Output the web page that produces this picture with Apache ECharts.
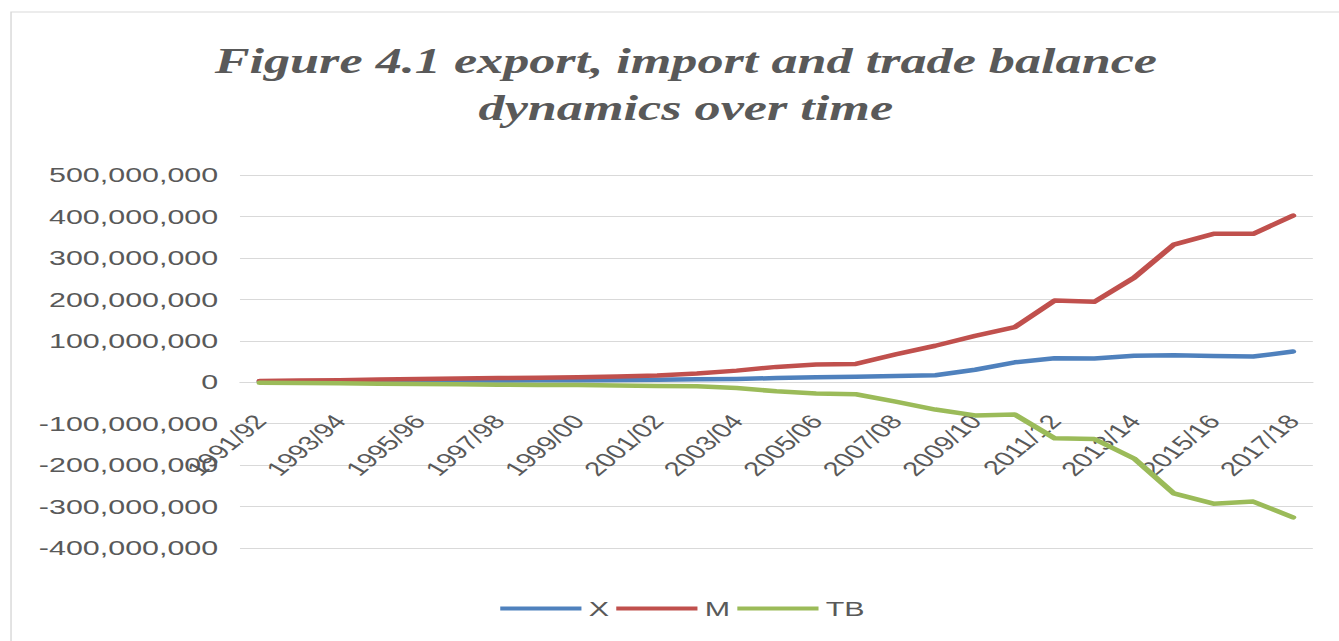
<!DOCTYPE html>
<html>
<head>
<meta charset="utf-8">
<script src="https://cdn.jsdelivr.net/npm/echarts@6/dist/echarts.min.js"></script>
<style>
  html, body { margin: 0; padding: 0; background: #fff; overflow: hidden; width: 1339px; height: 641px; }
  /* the figure is laid out narrow and widened horizontally */
  #chart { width: 924px; height: 641px; transform: scaleX(1.45); transform-origin: 0 0; }
</style>
</head>
<body>
<div id="chart"></div>
<script>
// Fiscal years
const years = [
  '1991/92', '1992/93', '1993/94', '1994/95', '1995/96', '1996/97', '1997/98',
  '1998/99', '1999/00', '2000/01', '2001/02', '2002/03', '2003/04', '2004/05',
  '2005/06', '2006/07', '2007/08', '2008/09', '2009/10', '2010/11', '2011/12',
  '2012/13', '2013/14', '2014/15', '2015/16', '2016/17', '2017/18'
];

// Exports (X)
const exportsX = [
  1500000, 2000000, 2500000, 3000000, 3500000, 4000000, 4000000,
  4500000, 5000000, 5500000, 6000000, 7000000, 8000000, 10000000,
  12000000, 13000000, 15000000, 17000000, 30000000, 48000000, 58000000,
  57000000, 64000000, 65000000, 63000000, 62000000, 74000000
];

// Imports (M)
const importsM = [
  3000000, 4000000, 5000000, 6500000, 8000000, 9000000, 10000000,
  11000000, 12000000, 14000000, 16000000, 21000000, 28000000, 37000000,
  43000000, 44000000, 67000000, 88000000, 112000000, 133000000, 197000000,
  194000000, 252000000, 332000000, 358000000, 358000000, 402000000
];

// Trade balance (TB)
const tradeBalance = [
  -1000000, -2000000, -2500000, -3500000, -4000000, -5000000, -6000000,
  -6500000, -7000000, -8000000, -9000000, -10000000, -14000000, -22000000,
  -27000000, -29000000, -47000000, -66000000, -80000000, -78000000, -135000000,
  -137000000, -184000000, -268000000, -293000000, -288000000, -326000000
];

const seriesNames = ['X', 'M', 'TB'];
const seriesColors = ['#4F81BD', '#C0504D', '#9BBB59'];
const titleLines = ['Figure 4.1 export, import and trade balance', 'dynamics over time'];

const yMin = -400000000;
const yMax = 500000000;
const yStep = 100000000;

const textGrey = '#595959';
const gridGrey = '#d9d9d9';
const sansFont = '"Liberation Sans", Arial, sans-serif';

const gridTop = 175;
const gridBottom = 93;
const plotHeight = 641 - gridTop - gridBottom;
// category axis sits on the zero line, not at the bottom of the plot
const zeroOffset = -plotHeight * (0 - yMin) / (yMax - yMin);

const chart = echarts.init(document.getElementById('chart'), null, { renderer: 'svg' });

const titleStyle = {
  fill: textGrey,
  fontFamily: '"Liberation Serif", "Times New Roman", serif',
  fontStyle: 'italic',
  fontWeight: 'bold',
  fontSize: 36,
  align: 'center',
  verticalAlign: 'middle'
};

const lineSeries = [exportsX, importsM, tradeBalance].map((values, i) => ({
  name: seriesNames[i],
  type: 'line',
  data: values,
  symbol: 'none',
  smooth: false,
  lineStyle: { width: 4.5, color: seriesColors[i], cap: 'round', join: 'round' },
  itemStyle: { color: seriesColors[i] }
}));

chart.setOption({
  backgroundColor: '#ffffff',
  animation: false,
  graphic: [
    {
      type: 'rect',
      silent: true,
      z: -1,
      shape: { x: 7.6, y: 12, width: 2000, height: 2000 },
      style: { fill: 'none', stroke: gridGrey, lineWidth: 1 }
    },
    { type: 'text', x: 473, y: 61, style: Object.assign({ text: titleLines[0] }, titleStyle) },
    { type: 'text', x: 473, y: 108, style: Object.assign({ text: titleLines[1] }, titleStyle) }
  ],
  grid: {
    left: 165.5,
    right: 18.6,
    top: gridTop,
    bottom: gridBottom,
    containLabel: false,
    outerBoundsMode: 'none'
  },
  legend: {
    data: seriesNames,
    left: 340,
    top: 593,
    icon: 'rect',
    itemWidth: 56,
    itemHeight: 4,
    itemGap: 5,
    textStyle: { color: textGrey, fontSize: 21, fontFamily: sansFont }
  },
  xAxis: {
    type: 'category',
    data: years,
    boundaryGap: true,
    position: 'bottom',
    offset: zeroOffset,
    axisLine: { show: true, onZero: false, lineStyle: { color: gridGrey, width: 1 } },
    axisTick: { show: false },
    axisLabel: {
      interval: 1,
      rotate: 50,
      margin: 35,
      color: textGrey,
      fontSize: 20,
      fontFamily: sansFont
    },
    splitLine: { show: false }
  },
  yAxis: {
    type: 'value',
    min: yMin,
    max: yMax,
    interval: yStep,
    axisLine: { show: false },
    axisTick: { show: false },
    axisLabel: {
      margin: 15,
      color: textGrey,
      fontSize: 21,
      fontFamily: sansFont,
      formatter: v => v.toLocaleString('en-US')
    },
    splitLine: { show: true, lineStyle: { color: gridGrey, width: 1 } }
  },
  series: lineSeries
});
</script>
</body>
</html>
